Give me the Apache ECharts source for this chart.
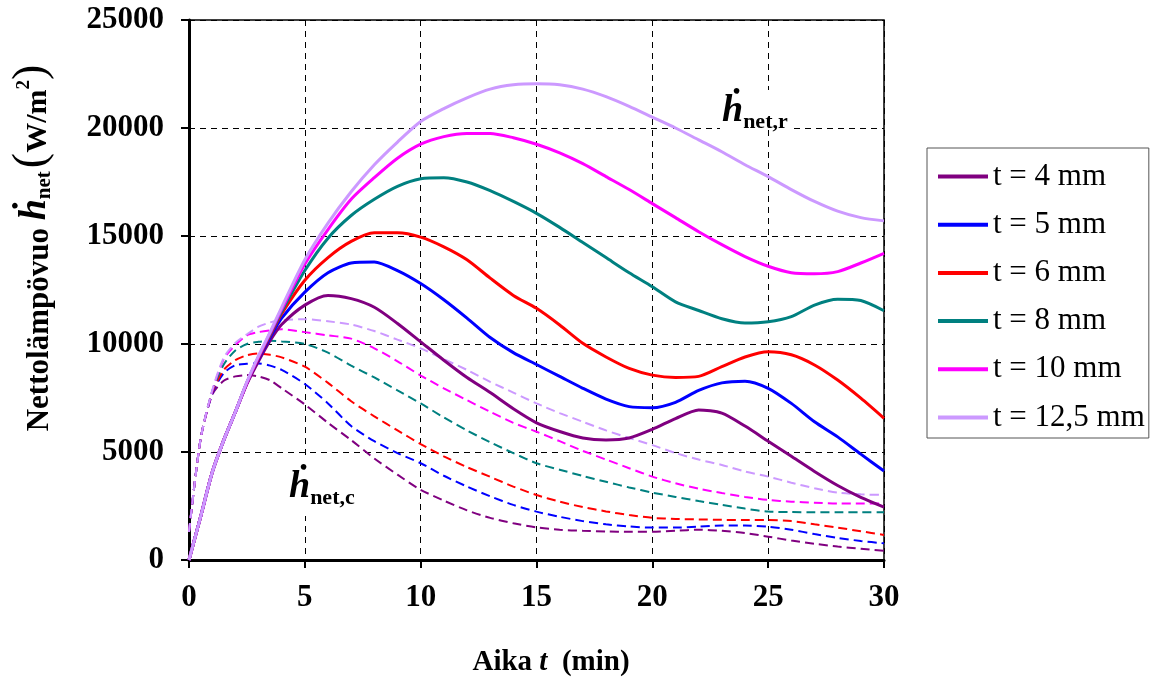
<!DOCTYPE html>
<html>
<head>
<meta charset="utf-8">
<script src="https://cdn.jsdelivr.net/npm/echarts@6/dist/echarts.min.js"></script>
<style>
  html, body { margin: 0; padding: 0; background: #fff; }
  #chart { width: 1158px; height: 684px; }
</style>
</head>
<body>
<div id="chart"></div>
<script>
// Time axis (min)
const time = [0, 0.5, 1, 1.5, 2, 2.5, 3, 3.5, 4, 5, 6, 7, 8, 9, 10, 11, 12, 13, 14, 15,
  16, 17, 18, 19, 20, 21, 22, 23, 24, 25, 26, 27, 28, 29, 30];

// Net heat flux, total (solid), W/m2
const netR4 = [0, 2000, 4050, 5550, 6850, 8150, 9200, 10150, 10900, 11800, 12250, 12100, 11700, 10950, 10100, 9250, 8450, 7750, 7000, 6350, 5950, 5650, 5560, 5650, 6050, 6550, 6950, 6800, 6200, 5500, 4800, 4100, 3450, 2900, 2450];
const netR5 = [0, 2000, 4050, 5550, 6850, 8200, 9300, 10300, 11200, 12400, 13300, 13750, 13800, 13400, 12800, 12050, 11200, 10300, 9600, 9050, 8500, 7950, 7450, 7100, 7050, 7300, 7850, 8200, 8280, 7950, 7250, 6400, 5700, 4900, 4120];
const netR6 = [0, 2000, 4050, 5550, 6850, 8200, 9350, 10400, 11400, 12950, 14000, 14750, 15150, 15150, 14950, 14500, 13900, 13050, 12250, 11650, 10880, 10030, 9400, 8870, 8560, 8450, 8500, 8950, 9400, 9640, 9500, 9030, 8330, 7490, 6560];
const netR8 = [0, 2000, 4050, 5550, 6850, 8200, 9400, 10450, 11500, 13400, 14900, 15950, 16700, 17300, 17650, 17700, 17500, 17100, 16600, 16050, 15400, 14700, 14000, 13300, 12650, 11950, 11550, 11170, 10970, 11030, 11270, 11800, 12070, 12010, 11540];
const netR10 = [0, 2000, 4050, 5550, 6850, 8200, 9400, 10500, 11600, 13700, 15300, 16700, 17700, 18600, 19250, 19600, 19750, 19750, 19550, 19250, 18850, 18350, 17750, 17150, 16500, 15850, 15200, 14600, 14050, 13600, 13300, 13250, 13350, 13750, 14200];
const netR125 = [0, 2000, 4050, 5550, 6850, 8250, 9450, 10550, 11700, 13900, 15600, 17050, 18300, 19350, 20300, 20900, 21400, 21800, 22000, 22050, 22000, 21800, 21450, 21000, 20500, 20000, 19450, 18900, 18300, 17750, 17150, 16600, 16150, 15850, 15700];

// Convective part (dashed), W/m2
const netC4 = [1300, 5600, 7650, 8300, 8500, 8560, 8500, 8320, 7950, 7200, 6350, 5550, 4700, 3950, 3250, 2750, 2300, 1950, 1700, 1510, 1400, 1350, 1320, 1310, 1310, 1350, 1400, 1350, 1250, 1080, 900, 750, 620, 520, 430];
const netC5 = [1300, 5600, 7700, 8650, 9020, 9080, 9100, 9000, 8800, 8150, 7250, 6200, 5500, 4950, 4480, 3900, 3400, 2950, 2550, 2240, 2000, 1800, 1650, 1550, 1500, 1500, 1550, 1600, 1600, 1540, 1400, 1200, 1020, 880, 770];
const netC6 = [1300, 5600, 7750, 8800, 9250, 9480, 9560, 9500, 9380, 8950, 8200, 7350, 6650, 6000, 5370, 4800, 4300, 3850, 3400, 3010, 2700, 2450, 2250, 2080, 1950, 1900, 1880, 1860, 1850, 1850, 1800, 1650, 1500, 1330, 1160];
const netC8 = [1300, 5600, 7800, 9050, 9700, 10000, 10100, 10150, 10120, 10000, 9600, 9000, 8450, 7850, 7250, 6600, 6000, 5450, 4950, 4480, 4180, 3890, 3620, 3360, 3120, 2920, 2730, 2550, 2380, 2240, 2220, 2210, 2210, 2210, 2210];
const netC10 = [1300, 5600, 7800, 9300, 9950, 10400, 10550, 10630, 10680, 10550, 10400, 10250, 9800, 9200, 8540, 7950, 7400, 6860, 6350, 5940, 5500, 5050, 4650, 4250, 3860, 3550, 3300, 3100, 2920, 2780, 2700, 2650, 2620, 2620, 2620];
const netC125 = [1300, 5600, 7850, 9360, 10050, 10450, 10800, 11000, 11100, 11150, 11050, 10900, 10600, 10200, 9800, 9300, 8800, 8250, 7750, 7250, 6800, 6400, 6000, 5650, 5320, 4950, 4650, 4400, 4100, 3860, 3580, 3320, 3120, 3040, 3010];

const thicknessNames = ['t = 4 mm', 't = 5 mm', 't = 6 mm', 't = 8 mm', 't = 10 mm', 't = 12,5 mm'];
const colors = ['#800080', '#0000FF', '#FF0000', '#008080', '#FF00FF', '#CC99FF'];
const solidSets = [netR4, netR5, netR6, netR8, netR10, netR125];
const dashedSets = [netC4, netC5, netC6, netC8, netC10, netC125];

const SERIF = "'Liberation Serif', 'Times New Roman', 'DejaVu Serif', serif";

const pairs = arr => time.map((t, i) => [t, arr[i]]);

const series = [];
dashedSets.forEach((arr, k) => {
  series.push({
    name: thicknessNames[k] + ' (c)',
    type: 'line',
    data: pairs(arr),
    symbol: 'none',
    smooth: 0.25,
    lineStyle: { color: colors[k], width: 2, type: [9, 5] },
    itemStyle: { color: colors[k] },
    z: 2
  });
});
solidSets.forEach((arr, k) => {
  series.push({
    name: thicknessNames[k],
    type: 'line',
    data: pairs(arr),
    symbol: 'none',
    smooth: 0.25,
    lineStyle: { color: colors[k], width: 3 },
    itemStyle: { color: colors[k] },
    z: 3
  });
});

const chart = echarts.init(document.getElementById('chart'), null, { renderer: 'canvas' });

chart.setOption({
  animation: false,
  backgroundColor: '#fff',
  grid: {
    left: 189, top: 20, right: 274, bottom: 124,
    show: true, borderColor: '#000', borderWidth: 1.5, backgroundColor: 'transparent'
  },
  legend: {
    data: thicknessNames,
    orient: 'vertical',
    left: 927, top: 148,
    icon: 'rect',
    itemWidth: 50, itemHeight: 4,
    itemGap: 17.2,
    padding: [13, 4, 5, 11],
    borderColor: '#555', borderWidth: 1,
    backgroundColor: '#fff',
    textStyle: { fontFamily: SERIF, fontSize: 31, color: '#000', lineHeight: 30, height: 30 }
  },
  xAxis: {
    type: 'value', min: 0, max: 30, interval: 5,
    axisLine: { show: true, lineStyle: { color: '#000', width: 3 } },
    axisTick: { show: true, inside: false, length: 8, lineStyle: { color: '#000', width: 2 } },
    axisLabel: { fontFamily: SERIF, fontSize: 31, fontWeight: 'bold', color: '#000', margin: 22,
      formatter: v => String(v) },
    splitLine: { show: true, lineStyle: { color: '#000', width: 1, type: [6, 5] } }
  },
  yAxis: {
    type: 'value', min: 0, max: 25000, interval: 5000,
    axisLine: { show: true, lineStyle: { color: '#000', width: 3 } },
    axisTick: { show: true, inside: false, length: 8, lineStyle: { color: '#000', width: 2 } },
    axisLabel: { fontFamily: SERIF, fontSize: 31, fontWeight: 'bold', color: '#000', margin: 25,
      formatter: v => String(v) },
    splitLine: { show: true, lineStyle: { color: '#000', width: 1, type: [6, 5] } }
  },
  graphic: [
    {
      type: 'text',
      x: 33, y: 248,
      rotation: Math.PI / 2,
      z: 100,
      style: {
        text: '{a|Nettolämpövuo }{h|ḣ}{s|net}{p|(}{u|W/m}{e|2}{p|)}',
        align: 'center', verticalAlign: 'middle',
        rich: {
          a: { fontFamily: SERIF, fontSize: 31, fontWeight: 'bold', fill: '#000', lineHeight: 44, verticalAlign: 'bottom' },
          h: { fontFamily: SERIF, fontSize: 38, fontWeight: 'bold', fontStyle: 'italic', fill: '#000', lineHeight: 44, verticalAlign: 'bottom', padding: [0, 0, 1, 0] },
          s: { fontFamily: SERIF, fontSize: 21, fontWeight: 'bold', fill: '#000', lineHeight: 22, verticalAlign: 'bottom', padding: [0, 3, 0, 0] },
          p: { fontFamily: SERIF, fontSize: 46, fill: '#000', lineHeight: 44, verticalAlign: 'bottom' },
          u: { fontFamily: SERIF, fontSize: 30, fontWeight: 'bold', fill: '#000', lineHeight: 44, verticalAlign: 'bottom', padding: [0, 0, 2, 0] },
          e: { fontFamily: SERIF, fontSize: 19, fontWeight: 'bold', fill: '#000', lineHeight: 44, verticalAlign: 'top', padding: [4, 0, 0, 0] }
        }
      }
    },
    {
      type: 'text',
      x: 551, y: 663,
      z: 100,
      style: {
        text: '{a|Aika }{t|t}{a|  (min)}',
        align: 'center', verticalAlign: 'middle',
        rich: {
          a: { fontFamily: SERIF, fontSize: 29, fontWeight: 'bold', fill: '#000' },
          t: { fontFamily: SERIF, fontSize: 29, fontWeight: 'bold', fontStyle: 'italic', fill: '#000' }
        }
      }
    },
    {
      type: 'text',
      x: 720, y: 110,
      z: 100,
      style: {
        text: '{h|ḣ}{s|net,r}',
        align: 'left', verticalAlign: 'middle',
        backgroundColor: '#fff',
        padding: [0, 3, 0, 2],
        rich: {
          h: { fontFamily: SERIF, fontSize: 38, fontWeight: 'bold', fontStyle: 'italic', fill: '#000', lineHeight: 40, verticalAlign: 'bottom' },
          s: { fontFamily: SERIF, fontSize: 22, fontWeight: 'bold', fill: '#000', lineHeight: 22, verticalAlign: 'bottom', padding: [0, 0, -3, 0] }
        }
      }
    },
    {
      type: 'text',
      x: 287, y: 486,
      z: 100,
      style: {
        text: '{h|ḣ}{s|net,c}',
        align: 'left', verticalAlign: 'middle',
        backgroundColor: '#fff',
        padding: [10, 3, 10, 2],
        rich: {
          h: { fontFamily: SERIF, fontSize: 38, fontWeight: 'bold', fontStyle: 'italic', fill: '#000', lineHeight: 40, verticalAlign: 'bottom' },
          s: { fontFamily: SERIF, fontSize: 22, fontWeight: 'bold', fill: '#000', lineHeight: 22, verticalAlign: 'bottom', padding: [0, 0, -3, 0] }
        }
      }
    }
  ],
  series: series
});
</script>
</body>
</html>
